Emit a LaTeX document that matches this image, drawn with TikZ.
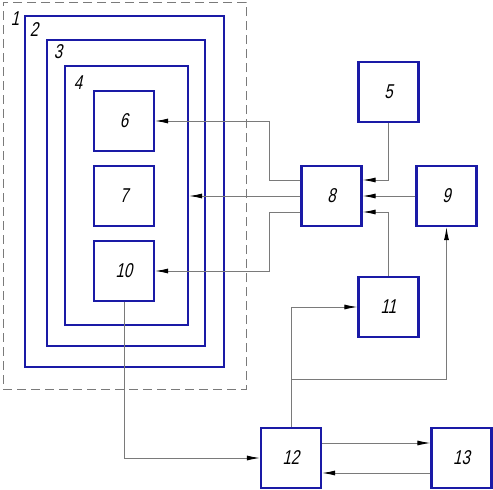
\documentclass[tikz,border=0pt]{standalone}
\usepackage{fontspec}
\newfontfamily\gostfont{Liberation Sans}[FakeStretch=0.75,FakeSlant=0.22]
\usetikzlibrary{arrows.meta}
\definecolor{boxblue}{HTML}{1A1AA6}
\definecolor{wire}{HTML}{7A7A7A}
\begin{document}
\begin{tikzpicture}[x=1pt,y=-1pt,
  blk/.style={draw=boxblue,line width=2.2pt,minimum width=60pt,minimum height=60pt,inner sep=0pt,
    font=\gostfont\fontsize{20}{20}\selectfont},
  frame/.style={draw=boxblue,line width=2.2pt,inner sep=0pt},
  lbl/.style={font=\gostfont\fontsize{20}{20}\selectfont,inner sep=0pt},
  conn/.style={draw=wire,line width=0.9pt},
  arr/.style={conn,-{Latex[length=13pt,width=5pt,color=black]}}]
\useasboundingbox (0,0) rectangle (493,490);
\node[draw=wire,line width=0.9pt,dash pattern=on 9pt off 5pt,minimum width=243pt,minimum height=387pt,inner sep=0pt] (outer) at (124.5,195.5) {};
\node[frame,minimum width=199pt,minimum height=351pt] (r1) at (124.5,191.5) {};
\node[frame,minimum width=158pt,minimum height=306pt] (r2) at (126,193) {};
\node[frame,minimum width=123pt,minimum height=259pt] (r3) at (126.5,195.5) {};
\node[lbl] (l1) at (15,19) {1};
\node[lbl] (l2) at (34,30) {2};
\node[lbl] (l3) at (58,52) {3};
\node[lbl] (l4) at (78,83) {4};
\node[blk] (b6) at (124,121) {6};
\node[blk] (b7) at (124,196) {7};
\node[blk] (b10) at (124,271) {10};
\node[blk] (b5) at (388.5,92) {5};
\node[blk] (b8) at (331.5,196) {8};
\node[blk] (b9) at (446.5,196) {9};
\node[blk] (b11) at (388.5,307) {11};
\node[blk] (b12) at (291,458) {12};
\node[blk] (b13) at (461.5,458) {13};
\coordinate (j) at (291,379);
% connectors
\draw[arr] (b5.south) |- ([yshift=16pt]b8.east);
\draw[arr] (b9.west) -- (b8.east);
\draw[arr] (b11.north) |- ([yshift=-16pt]b8.east);
\draw[arr] ([yshift=16pt]b8.west) -- ++(-31,0) |- (b6.east);
\draw[arr] (b8.west) -- (b8.west -| r3.east);
\draw[arr] ([yshift=-16pt]b8.west) -- ++(-31,0) |- (b10.east);
\draw[arr] (b10.south) |- (b12.west);
\draw[arr] (b12.north) |- (b11.west);
\draw[arr] (j) -| (b9.south);
\draw[arr] ([yshift=15pt]b12.east) -- ([yshift=15pt]b13.west);
\draw[arr] ([yshift=-15pt]b13.west) -- ([yshift=-15pt]b12.east);
\end{tikzpicture}
\end{document}
